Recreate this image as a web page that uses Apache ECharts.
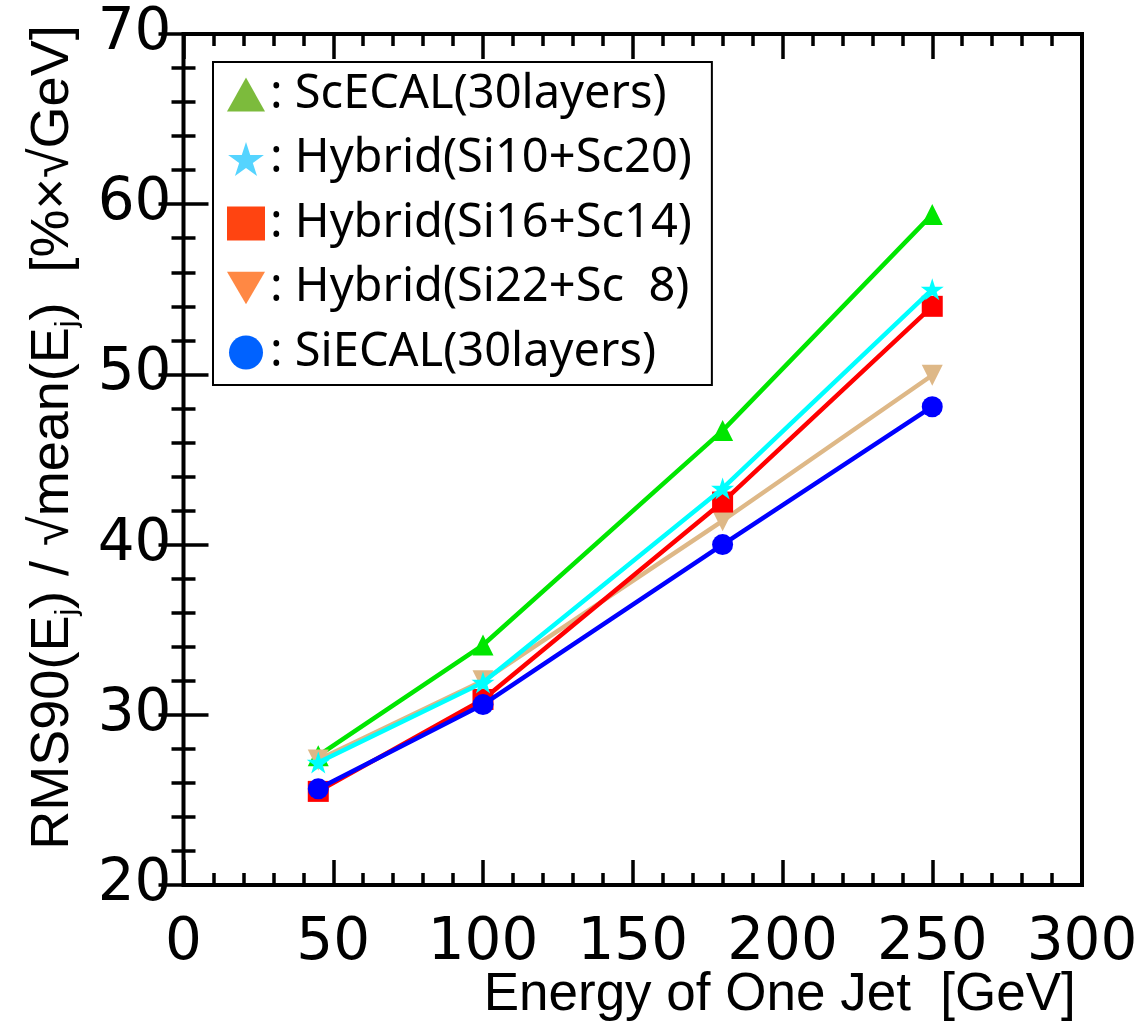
<!DOCTYPE html>
<html>
<head>
<meta charset="utf-8">
<script src="https://cdn.jsdelivr.net/npm/echarts@6/dist/echarts.min.js"></script>
<style>
html,body{margin:0;padding:0;background:#fff;}
#main{width:1143px;height:1021px;}
</style>
</head>
<body>
<div id="main"></div>
<script>
// ---- data ----
var energies = [45, 100, 180, 250];
var seriesNames = ['ScECAL(30layers)', 'Hybrid(Si10+Sc20)', 'Hybrid(Si16+Sc14)', 'Hybrid(Si22+Sc  8)', 'SiECAL(30layers)'];
var scecal  = [27.6, 34.1, 46.7, 59.4];
var hyb1020 = [27.2, 31.9, 43.3, 55.0];
var hyb1614 = [25.5, 30.9, 42.5, 54.0];
var hyb2208 = [27.35, 32.0, 41.4, 49.95];
var siecal  = [25.65, 30.6, 40.0, 48.1];
var xTicks = [0, 50, 100, 150, 200, 250, 300];
var yTicks = [20, 30, 40, 50, 60, 70];

function pairs(vals){ return energies.map(function(e,i){ return [e, vals[i]]; }); }

var starPath = 'path://M50,0 L61.2,34.5 L97.6,34.5 L68.2,55.9 L79.4,90.5 L50,69.1 L20.6,90.5 L31.8,55.9 L2.4,34.5 L38.8,34.5 Z';
var invTriPath = 'path://M0,0 L100,0 L50,86 Z';

var chart = echarts.init(document.getElementById('main'), null, {renderer:'canvas'});

var labelFont = 'DejaVu Sans';
var titleFont = 'Liberation Sans';

function mkX(pos, show){
  return {
    type:'value', position:pos, min:xTicks[0], max:xTicks[xTicks.length-1], interval:50,
    axisLine:{show:false},
    axisTick:{show:true, inside:true, length:25, lineStyle:{color:'#000', width:3.5}},
    minorTick:{show:true, splitNumber:5, length:12, lineStyle:{color:'#000', width:3.5}},
    splitLine:{show:false},
    axisLabel:{show:show, color:'#000', fontFamily:labelFont, fontSize:58, margin:30}
  };
}
function mkY(pos, show){
  return {
    type:'value', position:pos, min:yTicks[0], max:yTicks[yTicks.length-1], interval:10,
    axisLine:{show:false},
    axisTick:{show:true, inside:true, length:25, lineStyle:{color:'#000', width:3.5}},
    minorTick:{show:true, splitNumber:5, length:12, lineStyle:{color:'#000', width:3.5}},
    splitLine:{show:false},
    axisLabel:{show:show, color:'#000', fontFamily:labelFont, fontSize:58, margin:12}
  };
}

var xMain = mkX('bottom', true);
xMain.name = 'Energy of One Jet  [GeV]';
xMain.nameLocation = 'middle';
xMain.nameGap = 110;
xMain.nameMoveOverlap = false;
xMain.nameTextStyle = {color:'#000', fontFamily:titleFont, fontSize:53, verticalAlign:'middle', padding:[0,0,0,294]};

var yMain = mkY('left', true);
yMain.name = 'RMS90(E{sub|j}) / √mean(E{sub|j})  [%×√GeV]';
yMain.nameLocation = 'middle';
yMain.nameRotate = 90;
yMain.nameGap = 103;
yMain.nameMoveOverlap = false;
yMain.nameTextStyle = {
  color:'#000', fontFamily:titleFont, fontSize:54, lineHeight:54, padding:[0,0,0,44],
  rich:{ sub:{fontFamily:titleFont, fontSize:30, lineHeight:30, padding:[28,0,0,0], color:'#000'} }
};

var lineDefs = [
  {name:seriesNames[0], data:scecal,  color:'#00e600', symbol:'triangle', size:[21,21], rot:0,   z:2},
  {name:seriesNames[1], data:hyb1020, color:'#00ffff', symbol:starPath,  size:[23,22], rot:0,   z:6},
  {name:seriesNames[2], data:hyb1614, color:'#ff0000', symbol:'rect',    size:[21,21], rot:0,   z:4},
  {name:seriesNames[3], data:hyb2208, color:'#deb887', symbol:'triangle',size:[21,21], rot:180, z:3},
  {name:seriesNames[4], data:siecal,  color:'#0000ff', symbol:'circle',  size:[21,21], rot:0,   z:5}
];

var series = lineDefs.map(function(d){
  return {
    name:d.name, type:'line', xAxisIndex:0, yAxisIndex:0, data:pairs(d.data),
    z:d.z, symbol:d.symbol, symbolSize:d.size, symbolRotate:d.rot, showSymbol:true,
    lineStyle:{color:d.color, width:4.5},
    itemStyle:{color:d.color, borderWidth:0},
    emphasis:{disabled:true}, animation:false
  };
});

var legendIcons = [
  {icon:'triangle', color:'#7cbb3c'},
  {icon:starPath,   color:'#55d4ff'},
  {icon:'rect',     color:'#ff4411'},
  {icon:invTriPath, color:'#ff8844'},
  {icon:'circle',   color:'#0062ff'}
];

var option = {
  backgroundColor:'#fff',
  animation:false,
  grid:{left:183.5, right:61, top:34, bottom:136, show:true, borderColor:'#000', borderWidth:4, backgroundColor:'transparent', containLabel:false, outerBoundsMode:'none'},
  xAxis:[xMain, mkX('top', false)],
  yAxis:[yMain, mkY('right', false)],
  legend:{
    show:true, orient:'vertical', left:213, top:62,
    selectedMode:false,
    backgroundColor:'#fff', borderColor:'#000', borderWidth:2,
    padding:[9,20,9,14],
    itemWidth:38, itemHeight:34, itemGap:17.5,
    textStyle:{color:'#000', fontFamily:'Noto Sans', fontSize:47},
    formatter:function(n){ return ': ' + n; },
    data: seriesNames.map(function(n,i){
      return {name:n, icon:legendIcons[i].icon, itemStyle:{color:legendIcons[i].color, borderWidth:0}};
    })
  },
  series:series
};
chart.setOption(option);
</script>
</body>
</html>
